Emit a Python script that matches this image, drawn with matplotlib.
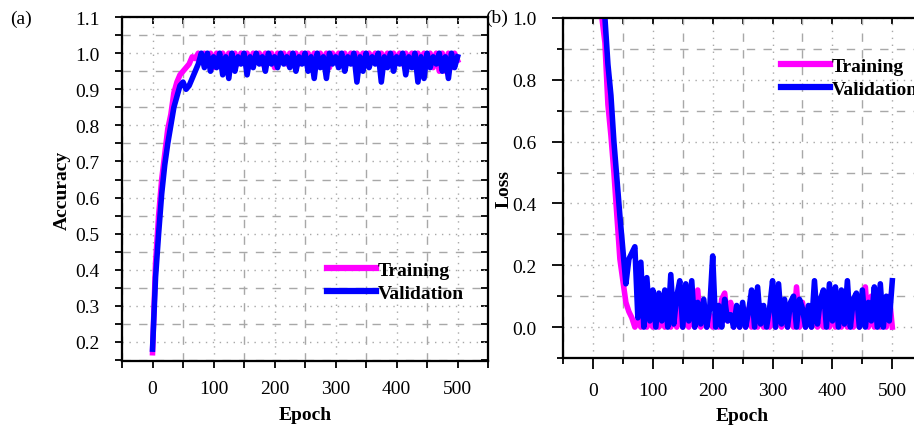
import numpy as np
import matplotlib
matplotlib.use("Agg")
import matplotlib.pyplot as plt
from matplotlib.lines import Line2D
from matplotlib.ticker import MultipleLocator, NullFormatter

# 数据：每5个epoch读取一次
epochs = np.arange(0, 501, 5)

acc_train = [0.17, 0.42, 0.55, 0.65, 0.72, 0.79, 0.83, 0.89, 0.92, 0.94,
             0.95, 0.96, 0.97, 0.99, 0.985, 1.0,
             0.98, 1.0, 0.97, 1.0, 0.96, 1.0, 0.98, 1.0, 0.97, 1.0,
             0.98, 1.0, 0.97, 1.0, 0.98, 1.0, 0.97, 1.0, 0.98, 1.0,
             0.97, 1.0, 0.98, 1.0, 0.96, 1.0, 0.98, 1.0, 0.97, 1.0,
             0.98, 1.0, 0.97, 1.0, 0.98, 1.0, 0.97, 1.0, 0.98, 1.0,
             0.97, 1.0, 0.96, 1.0, 0.98, 1.0, 0.97, 1.0, 0.98, 1.0,
             0.97, 1.0, 0.98, 1.0, 0.97, 1.0, 0.98, 1.0, 0.97, 1.0,
             0.98, 1.0, 0.97, 1.0, 0.98, 1.0, 0.97, 1.0, 0.98, 1.0,
             0.97, 1.0, 0.98, 1.0, 0.97, 1.0, 0.96, 1.0, 0.95, 1.0,
             0.95, 1.0, 0.96, 1.0, 0.98]

acc_val = [0.18, 0.38, 0.50, 0.61, 0.69, 0.75, 0.80, 0.85, 0.88, 0.91,
           0.92, 0.90, 0.91, 0.93, 0.95, 0.97,
           1.0, 0.96, 1.0, 0.95, 0.99, 0.96, 1.0, 0.94, 0.99, 0.93,
           1.0, 0.95, 0.99, 0.97, 1.0, 0.94, 0.99, 0.96, 1.0, 0.97,
           0.99, 0.95, 1.0, 0.97, 0.99, 0.96, 1.0, 0.97, 0.99, 0.96,
           1.0, 0.95, 0.99, 0.97, 1.0, 0.95, 0.99, 0.93, 1.0, 0.96,
           0.99, 0.93, 1.0, 0.97, 0.99, 0.96, 1.0, 0.95, 0.99, 0.97,
           1.0, 0.92, 0.99, 0.95, 1.0, 0.96, 0.99, 0.97, 1.0, 0.92,
           0.99, 0.96, 1.0, 0.95, 0.99, 0.97, 1.0, 0.94, 0.99, 0.96,
           1.0, 0.92, 0.99, 0.93, 1.0, 0.96, 0.99, 0.97, 1.0, 0.95,
           0.99, 0.93, 1.0, 0.96, 0.99]

loss_train = [2.0, 1.6, 1.3, 1.0, 0.92, 0.72, 0.62, 0.50, 0.36, 0.22,
              0.15, 0.08, 0.05, 0.03, 0.0, 0.02, 0.0, 0.04, 0.0, 0.02,
              0.0, 0.05, 0.0, 0.03, 0.0, 0.06, 0.0, 0.04, 0.0, 0.07,
              0.0, 0.05, 0.0, 0.08, 0.0, 0.12, 0.0, 0.06, 0.0, 0.04,
              0.0, 0.05, 0.0, 0.09, 0.11, 0.02, 0.08, 0.0, 0.05, 0.0,
              0.04, 0.0, 0.06, 0.0, 0.05, 0.0, 0.07, 0.0, 0.05, 0.0,
              0.06, 0.0, 0.08, 0.0, 0.05, 0.0, 0.07, 0.0, 0.13, 0.0,
              0.08, 0.0, 0.06, 0.0, 0.09, 0.0, 0.05, 0.0, 0.10, 0.0,
              0.07, 0.0, 0.06, 0.0, 0.05, 0.0, 0.08, 0.0, 0.06, 0.0,
              0.07, 0.13, 0.0, 0.10, 0.0, 0.07, 0.0, 0.09, 0.0, 0.10,
              0.0]

loss_val = [2.2, 1.8, 1.4, 1.12, 1.0, 0.85, 0.75, 0.60, 0.48, 0.36,
            0.25, 0.14, 0.22, 0.24, 0.26, 0.03, 0.21, 0.0, 0.16, 0.02,
            0.12, 0.0, 0.11, 0.02, 0.12, 0.0, 0.17, 0.01, 0.10, 0.15,
            0.0, 0.14, 0.02, 0.15, 0.0, 0.08, 0.01, 0.09, 0.0, 0.06,
            0.23, 0.0, 0.07, 0.0, 0.09, 0.02, 0.04, 0.0, 0.07, 0.0,
            0.08, 0.0, 0.05, 0.12, 0.0, 0.13, 0.01, 0.07, 0.0, 0.06,
            0.15, 0.0, 0.14, 0.01, 0.09, 0.0, 0.08, 0.10, 0.0, 0.09,
            0.06, 0.0, 0.07, 0.0, 0.15, 0.01, 0.09, 0.12, 0.0, 0.14,
            0.02, 0.13, 0.0, 0.12, 0.01, 0.15, 0.0, 0.09, 0.11, 0.0,
            0.12, 0.0, 0.08, 0.02, 0.13, 0.0, 0.14, 0.0, 0.10, 0.02,
            0.15]

plt.rcParams['font.family'] = ['Liberation Serif', 'DejaVu Serif']
plt.rcParams['font.size'] = 14

MAGENTA = '#ff00ff'
BLUE = '#0000ff'
GRID = '#a8a8a8'
LW = 4.0


def style_axes(ax, ymajor, yminor, major_len, minor_len):
    ax.xaxis.set_major_locator(MultipleLocator(100))
    ax.xaxis.set_minor_locator(MultipleLocator(50))
    ax.yaxis.set_major_locator(MultipleLocator(ymajor))
    ax.yaxis.set_minor_locator(MultipleLocator(yminor))
    ax.tick_params(which='major', direction='out', length=major_len, width=1.3,
                   labelsize=14)
    ax.tick_params(which='minor', direction='out', length=minor_len, width=1.3)
    ax.tick_params(axis='x', which='major', pad=9)
    ax.tick_params(axis='y', which='major', pad=11)
    for s in ax.spines.values():
        s.set_linewidth(1.5)
    ax.grid(which='major', linestyle=(0, (1, 4)), color=GRID, linewidth=1)
    ax.grid(which='minor', linestyle=(0, (6, 6)), color=GRID, linewidth=1)
    ax.set_axisbelow(True)
    # 上侧和右侧的向内刻度
    tx = ax.twiny()
    tx.set_xlim(ax.get_xlim())
    tx.xaxis.set_major_locator(MultipleLocator(50))
    tx.xaxis.set_major_formatter(NullFormatter())
    tx.tick_params(axis='x', direction='in', length=minor_len, width=1.3)
    ty = ax.twinx()
    ty.set_ylim(ax.get_ylim())
    ty.yaxis.set_major_locator(MultipleLocator(yminor))
    ty.yaxis.set_major_formatter(NullFormatter())
    ty.tick_params(axis='y', direction='in', length=minor_len, width=1.3)
    for t in (tx, ty):
        for s in t.spines.values():
            s.set_linewidth(1.5)
        t.set_zorder(ax.get_zorder() - 1)
    ax.patch.set_visible(False)


fig = plt.figure(figsize=(9.14, 4.31), dpi=100)

# (a) 准确率
ax1 = fig.add_axes([0.1335, 0.160, 0.4005, 0.798])
ax1.plot(epochs, acc_train, color=MAGENTA, lw=LW)
ax1.plot(epochs, acc_val, color=BLUE, lw=LW)
ax1.set_xlim(-50, 550)
ax1.set_ylim(0.147, 1.1)
style_axes(ax1, 0.1, 0.05, 5, 5)
ax1.set_xlabel('Epoch', fontweight='bold', fontsize=14, labelpad=6)
ax1.set_ylabel('Accuracy', fontweight='bold', fontsize=14, labelpad=3)
h = [Line2D([], [], color=MAGENTA, lw=4.5), Line2D([], [], color=BLUE, lw=4.5)]
ax1.legend(h, ['Training', 'Validation'], loc='upper left',
           bbox_to_anchor=(0.54, 0.313), frameon=False, handlelength=2.5,
           handletextpad=0.1, labelspacing=0.3, borderaxespad=0.0,
           prop={'weight': 'bold', 'size': 14})

# (b) 损失
ax2 = fig.add_axes([0.616, 0.167, 0.393, 0.789])
ax2.plot(epochs, loss_train, color=MAGENTA, lw=LW)
ax2.plot(epochs, loss_val, color=BLUE, lw=LW)
ax2.set_xlim(-50, 550)
ax2.set_ylim(-0.1, 1.0)
style_axes(ax2, 0.2, 0.1, 8, 4.5)
ax2.set_xlabel('Epoch', fontweight='bold', fontsize=14, labelpad=6)
ax2.set_ylabel('Loss', fontweight='bold', fontsize=14, labelpad=0)
ax2.legend(h, ['Training', 'Validation'], loc='upper left',
           bbox_to_anchor=(0.6, 0.908), frameon=False, handlelength=2.5,
           handletextpad=0.1, labelspacing=0.3, borderaxespad=0.0,
           prop={'weight': 'bold', 'size': 14})
# 图例整体左移一点
leg = ax2.get_legend()
leg.set_bbox_to_anchor((0.585, 0.908), transform=ax2.transAxes)

fig.text(0.011, 0.955, '(a)', fontsize=14, va='center')
fig.text(0.531, 0.958, '(b)', fontsize=14, va='center')

fig.savefig('out.png', dpi=100)
